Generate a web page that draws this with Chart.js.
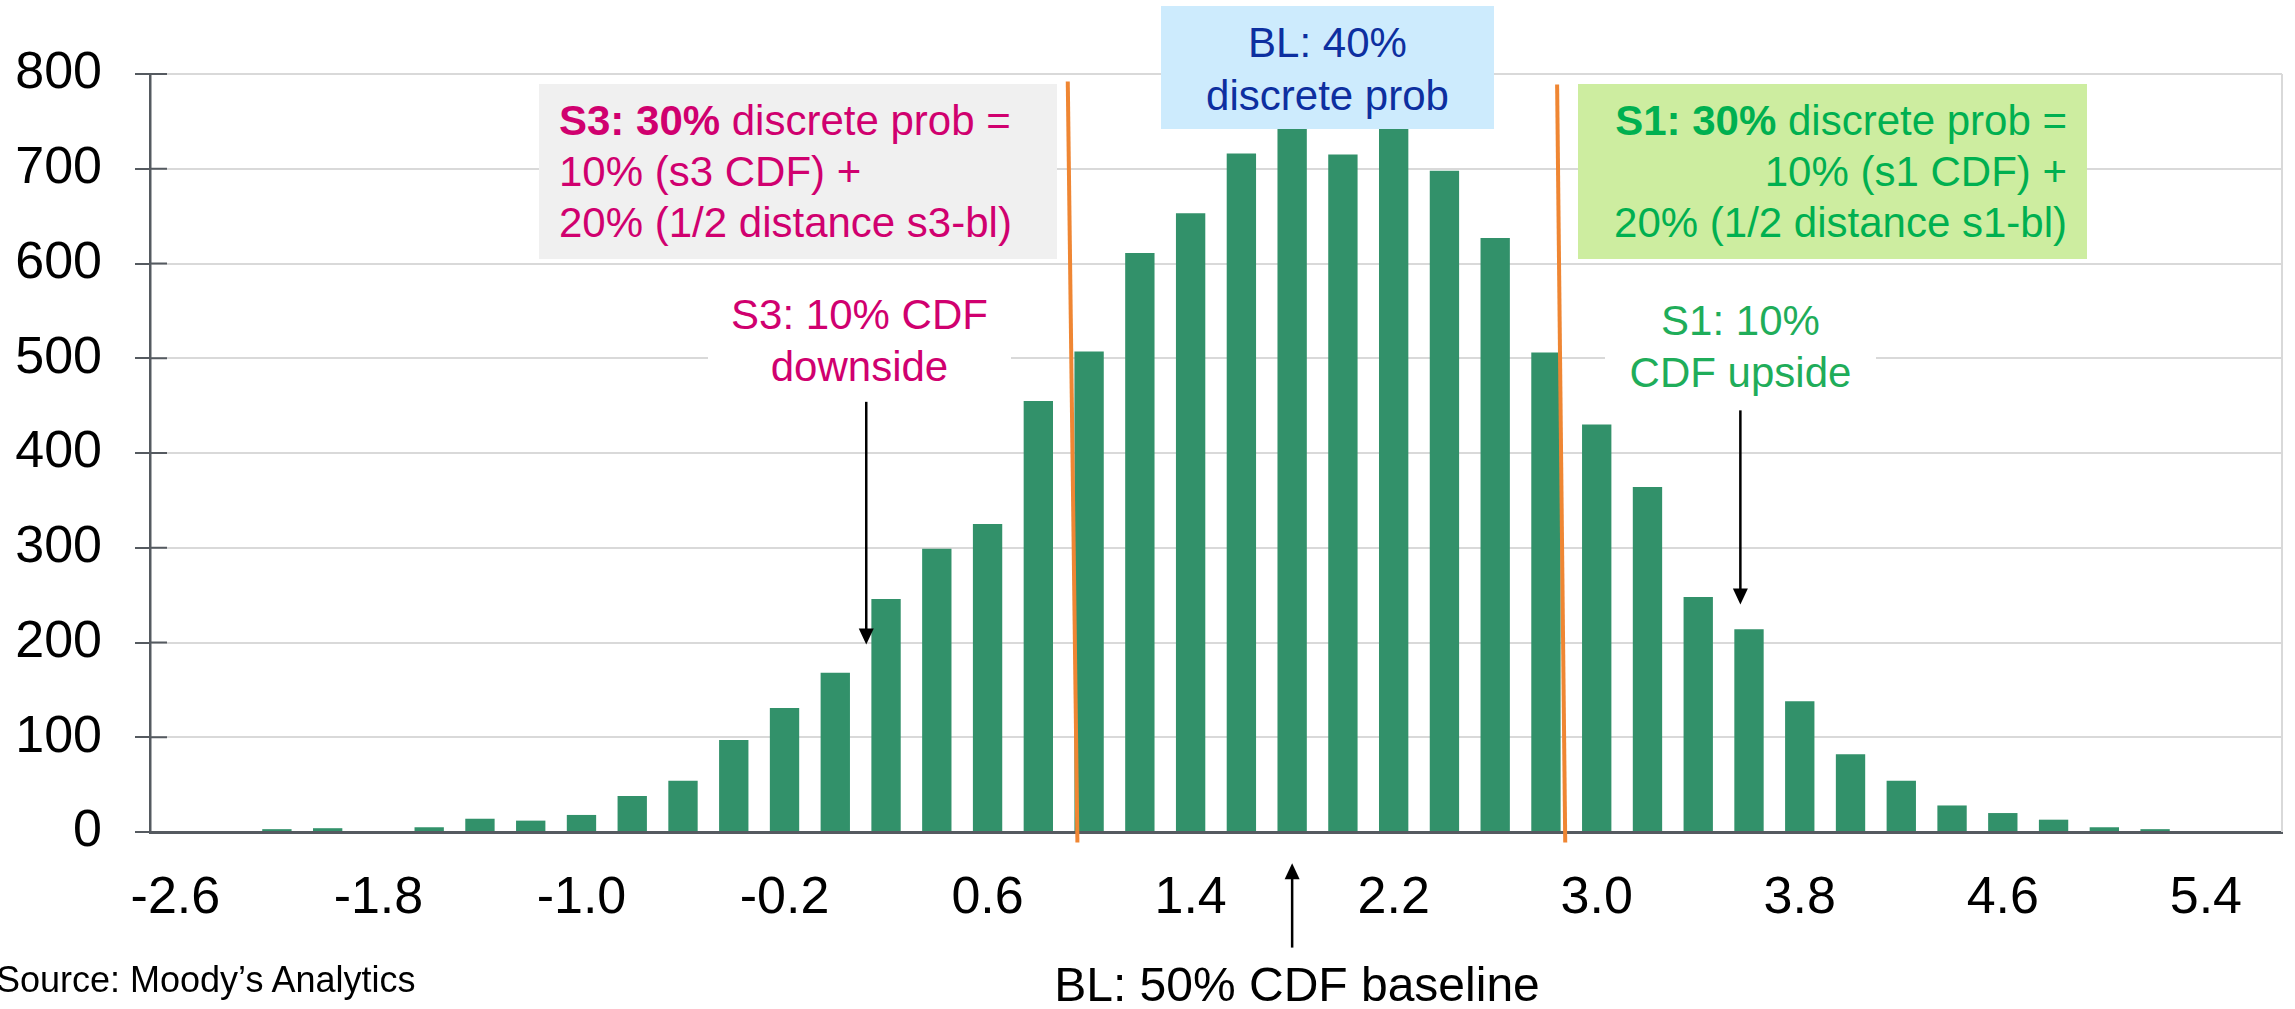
<!DOCTYPE html>
<html>
<head>
<meta charset="utf-8">
<title>Scenario probability histogram</title>
<script src="https://cdn.jsdelivr.net/npm/chart.js@4.4.1/dist/chart.umd.min.js"></script>
<style>
    body { margin: 0; background: #fff; }
    #wrap {
        position: relative;
        width: 2295px;
        height: 1009px;
        overflow: hidden;
        font-family: "Liberation Sans", Arial, sans-serif;
    }
    #histChart { position: absolute; left: 0; top: 0; }
    .note {
        position: absolute;
        box-sizing: border-box;
        white-space: nowrap;
        font-size: 42px;
    }
    #s3Box { left: 539px; top: 84px; width: 518px; height: 175px; background: #f0f0f0; color: #d0006f; line-height: 51px; padding: 11px 0 0 20px; }
    #blBox { left: 1161px; top: 6px; width: 333px; height: 123px; background: #cdebfd; color: #0d2fa0; line-height: 53px; padding-top: 10px; text-align: center; }
    #s1Box { left: 1578px; top: 84px; width: 509px; height: 175px; background: #cdeda0; color: #00b050; line-height: 51px; padding: 11px 20px 0 0; text-align: right; }
    #s3Cdf { left: 708px; top: 289px; width: 303px; height: 104px; background: #fff; color: #d0006f; line-height: 52px; text-align: center; }
    #s1Cdf { left: 1605px; top: 295px; width: 271px; height: 104px; background: #fff; color: #1fad5a; line-height: 52px; text-align: center; }
    #blCdf { left: 947px; top: 957px; width: 700px; font-size: 48px; line-height: 56px; color: #000; text-align: center; }
    #source { left: -4px; top: 960px; font-size: 36px; line-height: 40px; color: #000; }
</style>
</head>
<body>
<div id="wrap">
    <canvas id="histChart" width="2295" height="1009"></canvas>
    <div class="note" id="s3Box"><b>S3: 30%</b> discrete prob =<br>10% (s3 CDF) +<br>20% (1/2 distance s3-bl)</div>
    <div class="note" id="blBox">BL: 40%<br>discrete prob</div>
    <div class="note" id="s1Box"><b>S1: 30%</b> discrete prob =<br>10% (s1 CDF) +<br>20% (1/2 distance s1-bl)</div>
    <div class="note" id="s3Cdf">S3: 10% CDF<br>downside</div>
    <div class="note" id="s1Cdf">S1: 10%<br>CDF upside</div>
    <div class="note" id="blCdf">BL: 50% CDF baseline</div>
    <div class="note" id="source">Source: Moody’s Analytics</div>
</div>
<script>
// histogram buckets (step 0.2) and simulated counts per bucket
const bucketLabels = ['-2.6', '-2.4', '-2.2', '-2.0', '-1.8', '-1.6', '-1.4', '-1.2', '-1.0', '-0.8',
    '-0.6', '-0.4', '-0.2', '0.0', '0.2', '0.4', '0.6', '0.8', '1.0', '1.2',
    '1.4', '1.6', '1.8', '2.0', '2.2', '2.4', '2.6', '2.8', '3.0', '3.2',
    '3.4', '3.6', '3.8', '4.0', '4.2', '4.4', '4.6', '4.8', '5.0', '5.2',
    '5.4', '5.6'];
const bucketCounts = [0, 0, 3, 4, 0, 5, 14, 12, 18, 38,
    54, 97, 131, 168, 246, 299, 325, 455, 507, 611,
    653, 716, 760, 715, 762, 698, 627, 506, 430, 364,
    248, 214, 138, 82, 54, 28, 20, 13, 5, 3,
    0, 0];
const xTickLabels = ['-2.6', '-1.8', '-1.0', '-0.2', '0.6', '1.4', '2.2', '3.0', '3.8', '4.6', '5.4'];
const yTickValues = [0, 100, 200, 300, 400, 500, 600, 700, 800];

// annotation marks in data units (x = bucket value, y = count)
const cutoffLines = [
    { x0: 0.916, y0: 792, x1: 0.954, y1: -11 },
    { x0: 2.844, y0: 789, x1: 2.876, y1: -11 }
];
const cdfArrows = [
    { x: 0.122, from: 454, to: 198 },
    { x: 3.566, from: 445, to: 240 },
    { x: 1.8, from: -122, to: -33 }
];

const bucketStart = -2.6;
const bucketStep = 0.2;

const annotationPlugin = {
    id: 'annotations',
    afterDraw(chart) {
        const { ctx, chartArea, scales } = chart;
        const xs = scales.x, ys = scales.y;
        const px = v => xs.getPixelForValue((v - bucketStart) / bucketStep);

        ctx.save();

        // light right border of the plot area
        ctx.strokeStyle = '#d9d9d9';
        ctx.lineWidth = 2;
        ctx.beginPath();
        ctx.moveTo(chartArea.right, chartArea.top);
        ctx.lineTo(chartArea.right, chartArea.bottom);
        ctx.stroke();

        // tick marks crossing into the plot
        ctx.strokeStyle = '#555a60';
        ctx.lineWidth = 2;
        yTickValues.forEach(v => {
            const y = ys.getPixelForValue(v);
            ctx.beginPath();
            ctx.moveTo(chartArea.left, y);
            ctx.lineTo(chartArea.left + 17, y);
            ctx.stroke();
        });

        // scenario cut-off lines
        ctx.strokeStyle = '#ef8633';
        ctx.lineWidth = 4;
        cutoffLines.forEach(l => {
            ctx.beginPath();
            ctx.moveTo(px(l.x0), ys.getPixelForValue(l.y0));
            ctx.lineTo(px(l.x1), ys.getPixelForValue(l.y1));
            ctx.stroke();
        });

        // CDF arrows
        ctx.strokeStyle = '#000';
        ctx.fillStyle = '#000';
        ctx.lineWidth = 2.5;
        cdfArrows.forEach(a => {
            const x = px(a.x);
            const y0 = ys.getPixelForValue(a.from);
            const y1 = ys.getPixelForValue(a.to);
            const dir = y1 > y0 ? 1 : -1;
            ctx.beginPath();
            ctx.moveTo(x, y0);
            ctx.lineTo(x, y1 - dir * 12);
            ctx.stroke();
            ctx.beginPath();
            ctx.moveTo(x, y1);
            ctx.lineTo(x - 7.5, y1 - dir * 16);
            ctx.lineTo(x + 7.5, y1 - dir * 16);
            ctx.closePath();
            ctx.fill();
        });

        ctx.restore();
    }
};

Chart.defaults.font.family = '"Liberation Sans", Arial, sans-serif';

const ctx = document.getElementById('histChart').getContext('2d');
const chart = new Chart(ctx, {
    type: 'bar',
    data: {
        labels: bucketLabels,
        datasets: [{
            data: bucketCounts,
            backgroundColor: '#32916a',
            barPercentage: 0.578,
            categoryPercentage: 1.0
        }]
    },
    options: {
        responsive: false,
        animation: false,
        layout: { padding: { top: 74, right: 13, left: 0, bottom: 0 } },
        plugins: {
            legend: { display: false },
            tooltip: { enabled: false }
        },
        scales: {
            x: {
                grid: { display: false },
                border: { display: true, color: '#555a60', width: 3 },
                ticks: {
                    autoSkip: false,
                    maxRotation: 0,
                    minRotation: 0,
                    padding: 27,
                    color: '#000',
                    font: { size: 52 },
                    callback: function (value) {
                        const label = this.getLabelForValue(value);
                        return xTickLabels.includes(label) ? label : '';
                    }
                },
                afterFit: s => { s.height = 177; }
            },
            y: {
                min: 0,
                max: 800,
                grid: {
                    color: '#d9d9d9',
                    lineWidth: 2,
                    tickLength: 15,
                    tickColor: '#555a60',
                    tickWidth: 2
                },
                border: { color: '#555a60', width: 2.5 },
                ticks: {
                    stepSize: 100,
                    padding: 33,
                    color: '#000',
                    font: { size: 52 }
                },
                afterFit: s => { s.width = 150; }
            }
        }
    },
    plugins: [annotationPlugin]
});
</script>
</body>
</html>
